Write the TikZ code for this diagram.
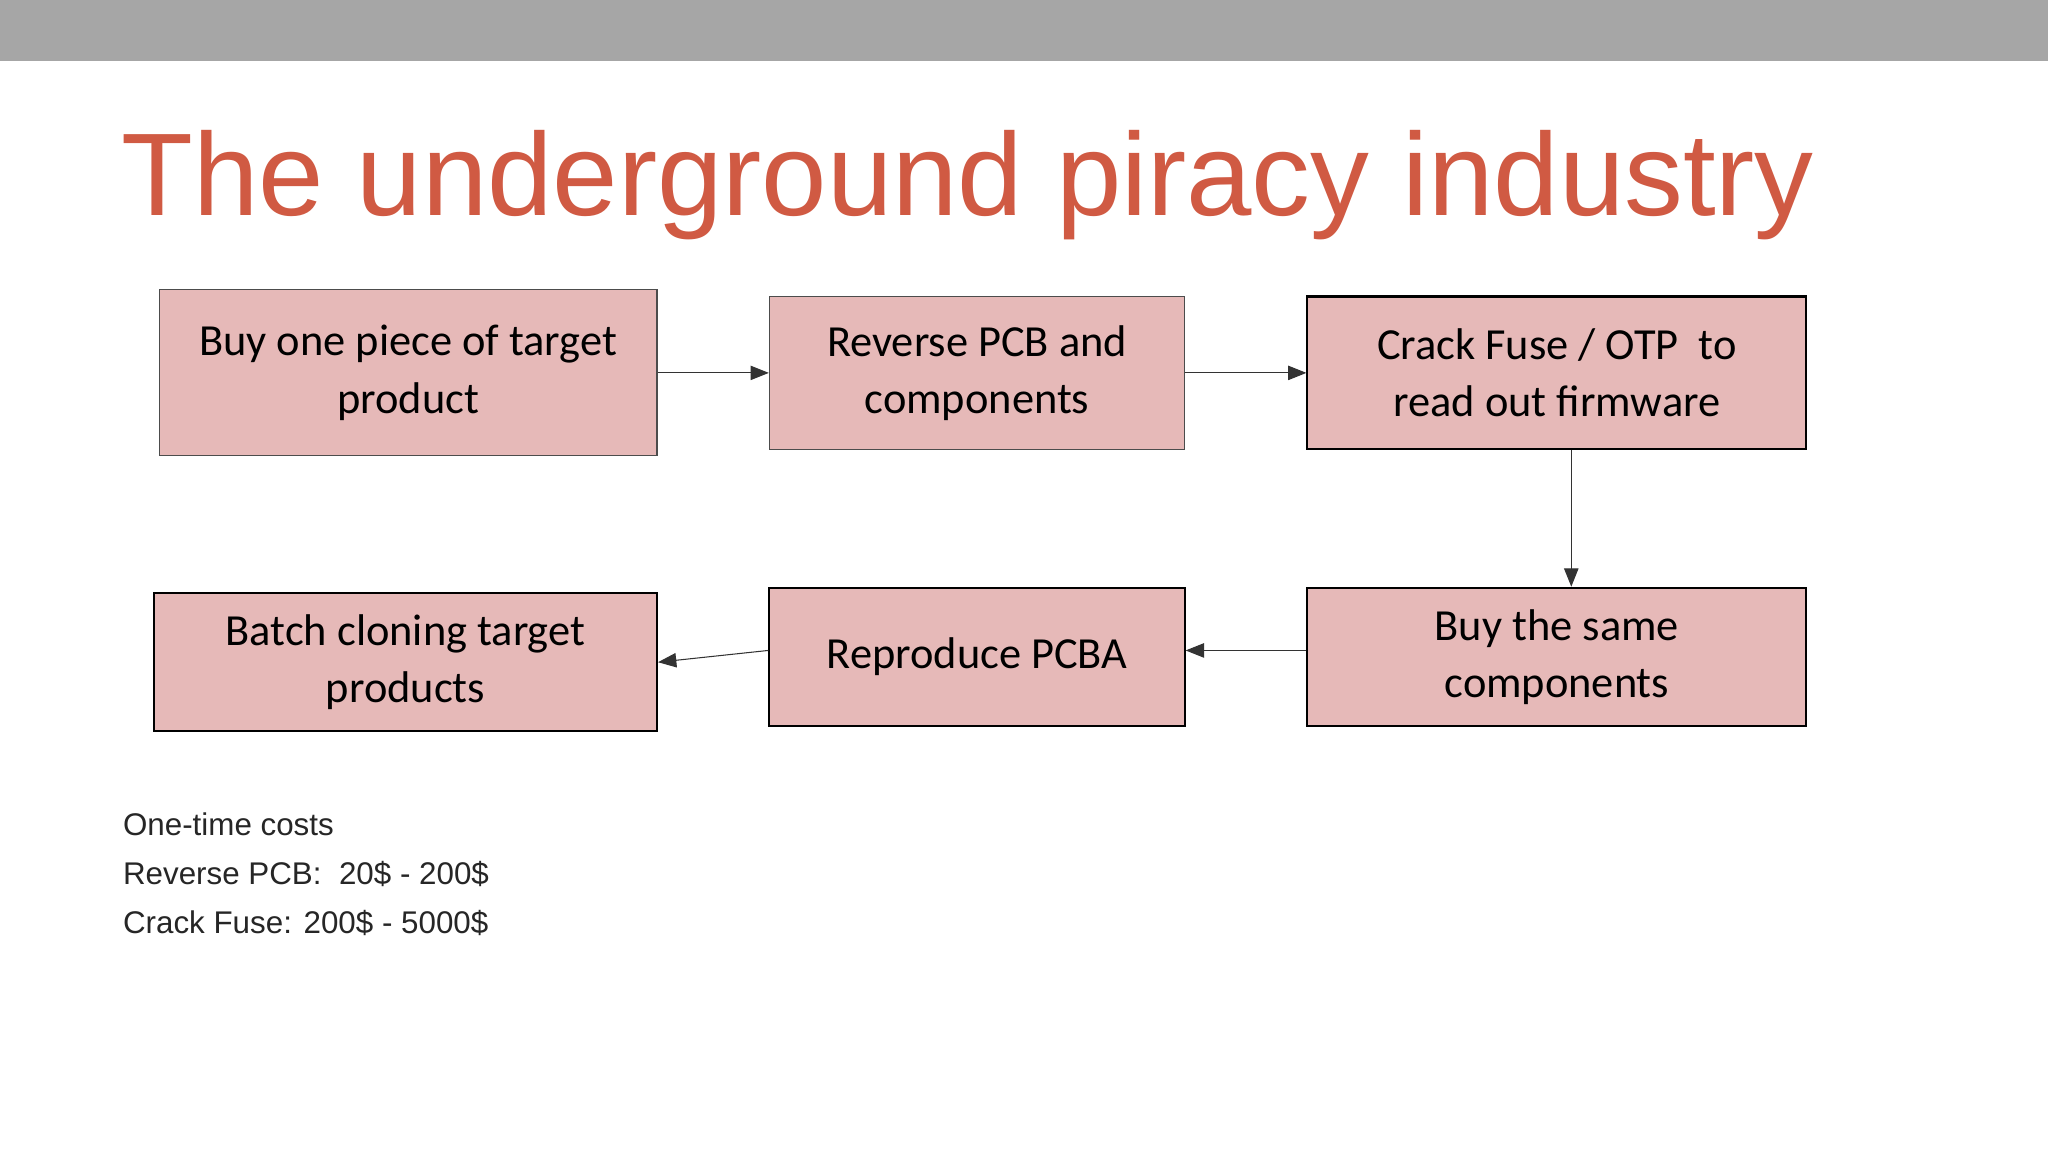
\documentclass[tikz,border=0pt]{standalone}
\usepackage{fontspec}
\setmainfont{Liberation Sans}
\newfontfamily\carlitofont{Carlito}
\usetikzlibrary{arrows.meta}
\definecolor{boxfill}{HTML}{E6B9B8}
\definecolor{titlered}{HTML}{D05A43}
\begin{document}
\begin{tikzpicture}[x=1pt,y=-1pt,
 box/.style={draw=black,fill=boxfill,line width=1.6pt,align=center,font=\carlitofont\fontsize{34}{44}\selectfont,inner sep=0pt},
 thin/.style={draw=black!70,line width=0.8pt},
 arr/.style={-{Triangle[length=14pt,width=11pt]},line width=0.8pt,draw=black!80}]
\useasboundingbox (0,0) rectangle (1568,882);
\fill[white] (0,0) rectangle (1568,882);
\fill[black!35] (0,0) rectangle (1568,47);
\node[anchor=base west,text=titlered,font=\fontsize{90}{100}\selectfont,inner sep=0pt] (title) at (93,165) {The underground piracy industry};
\node[box,thin,minimum width=381pt,minimum height=127pt] (b1) at (312.5,285.5) {Buy one piece of target\\product};
\node[box,thin,minimum width=318pt,minimum height=117pt] (b2) at (748,285.5) {Reverse PCB and\\components};
\node[box,minimum width=382pt,minimum height=117pt] (b3) at (1192,285.5) {Crack Fuse / OTP\ \ to\\read out firmware};
\node[box,minimum width=382pt,minimum height=106pt] (b4) at (1192,503) {Buy the same\\components};
\node[box,minimum width=318pt,minimum height=106pt] (b5) at (748,503) {Reproduce PCBA};
\node[box,minimum width=385pt,minimum height=106pt] (b6) at (310.5,507) {Batch cloning target\\products};
\draw[arr] (b1.east) -- (b2.west);
\draw[arr] (b2.east) -- (b3.west);
\draw[arr] ([xshift=11pt]b3.south) -- ([xshift=11pt]b4.north);
\draw[arr] ([yshift=5pt]b4.west) -- ([yshift=5pt]b5.west -| b5.east);
\draw[arr] ([yshift=5pt]b5.west) -- (b6.east);
\node[anchor=north west,align=left,font=\fontsize{24}{37.5}\selectfont,text=black!85,inner sep=0pt] (costs) at (94,622)
 {One-time costs\\Reverse PCB:\ \ 20\$ - 200\$\\Crack Fuse: 200\$ - 5000\$};
\end{tikzpicture}
\end{document}
